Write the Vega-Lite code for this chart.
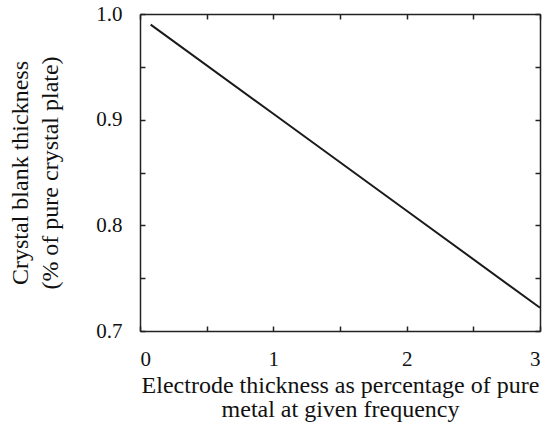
{
  "$schema": "https://vega.github.io/schema/vega-lite/v6.json",
  "width": 400,
  "height": 317,
  "autosize": "none",
  "padding": {"left": 140, "top": 14, "right": 5, "bottom": 97},
  "background": "white",
  "config": {
    "view": {"stroke": null},
    "axis": {
      "grid": false,
      "domainColor": "#222",
      "domainWidth": 1.5,
      "tickColor": "#222",
      "tickWidth": 1.5,
      "tickSize": -5,
      "labelFont": "Liberation Serif",
      "labelFontSize": 21,
      "labelColor": "#111",
      "titleFont": "Liberation Serif",
      "titleFontSize": 24,
      "titleFontWeight": "normal",
      "titleColor": "#111"
    }
  },
  "data": {
    "values": [
      {"x": 0.08, "y": 0.990},
      {"x": 1.0, "y": 0.9056},
      {"x": 2.0, "y": 0.8138},
      {"x": 3.0, "y": 0.722}
    ]
  },
  "layer": [
    {
      "mark": {"type": "line", "color": "#1a1a1a", "strokeWidth": 2},
      "encoding": {
        "x": {
          "field": "x", "type": "quantitative",
          "scale": {"domain": [0, 3], "nice": false, "zero": false},
          "axis": {
            "values": [0, 0.5, 1, 1.5, 2, 2.5, 3],
            "labelExpr": "datum.value % 1 === 0 ? format(datum.value, 'd') : ''",
            "labelPadding": 22,
            "title": ["Electrode thickness as percentage of pure", "metal at given frequency"],
            "titlePadding": 4,
            "titleLineHeight": 24
          }
        },
        "y": {
          "field": "y", "type": "quantitative",
          "scale": {"domain": [0.7, 1.0], "nice": false, "zero": false},
          "axis": {
            "values": [0.7, 0.75, 0.8, 0.85, 0.9, 0.95, 1.0],
            "labelExpr": "(round(datum.value*100) % 10 === 0) ? format(datum.value, '.1f') : ''",
            "labelPadding": 23,
            "title": ["Crystal blank thickness", "(% of pure crystal plate)"],
            "titlePadding": 33,
            "titleLineHeight": 30
          }
        }
      }
    },
    {
      "mark": {"type": "line", "color": "#1a1a1a", "strokeWidth": 2, "opacity": 0},
      "encoding": {
        "x": {
          "field": "x", "type": "quantitative",
          "scale": {"domain": [0, 3], "nice": false, "zero": false},
          "axis": {"orient": "top", "values": [0, 0.5, 1, 1.5, 2, 2.5, 3], "labels": false, "title": null}
        },
        "y": {
          "field": "y", "type": "quantitative",
          "scale": {"domain": [0.7, 1.0], "nice": false, "zero": false},
          "axis": {"orient": "right", "values": [0.7, 0.75, 0.8, 0.85, 0.9, 0.95, 1.0], "labels": false, "title": null}
        }
      }
    }
  ],
  "resolve": {"axis": {"x": "independent", "y": "independent"}}
}
